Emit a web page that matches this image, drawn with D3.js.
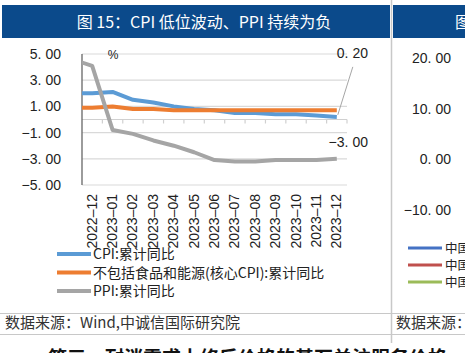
<!DOCTYPE html>
<html>
<head>
<meta charset="utf-8">
<script src="https://cdn.jsdelivr.net/npm/d3@7"></script>
<style>
  body { margin: 0; background: #fff; }
  svg { display: block; }
</style>
</head>
<body>
<svg width="465" height="353"></svg>
<script>
// months (2022-11 is outside the plot, only its line segment peeks in)
const months = ["2022-11", "2022-12", "2023-01", "2023-02", "2023-03", "2023-04", "2023-05",
  "2023-06", "2023-07", "2023-08", "2023-09", "2023-10", "2023-11", "2023-12"];
const shownMonths = months.slice(1);

const cpi  = [2.0, 2.0, 2.1, 1.5, 1.3, 1.0, 0.8, 0.7, 0.5, 0.5, 0.4, 0.4, 0.3, 0.2];
const core = [0.9, 0.9, 1.0, 0.8, 0.8, 0.7, 0.7, 0.7, 0.7, 0.7, 0.7, 0.7, 0.7, 0.7];
const ppi  = [4.6, 4.1, -0.8, -1.1, -1.6, -2.0, -2.5, -3.1, -3.2, -3.2, -3.1, -3.1, -3.1, -3.0];

const seriesNames = ["CPI:累计同比", "不包括食品和能源(核心CPI):累计同比", "PPI:累计同比"];
const seriesColors = ["#5b9bd5", "#ed7d31", "#a5a5a5"];
const yTicks = [5, 3, 1, -1, -3, -5];

// right, cropped neighbour chart
const rightTicks = [20, 10, 0, -10];
const rightColors = ["#4472c4", "#c0504d", "#9bbb59"];

const svg = d3.select("svg");
const fmt = d3.format(".2f");

// wide-period number text like the source font
function numText(sel, v) {
  const s = fmt(v).split(".");
  sel.append("tspan").text(s[0]);
  sel.append("tspan").attr("letter-spacing", 4).text(".");
  sel.append("tspan").text(s[1]);
}

// frame lines
svg.append("line").attr("x1", 391.5).attr("x2", 391.5).attr("y1", 0).attr("y2", 343)
  .attr("stroke", "#c8c8c8").attr("stroke-width", 1.5);
[313.5, 334.5].forEach(y => svg.append("line").attr("x1", 0).attr("x2", 465)
  .attr("y1", y).attr("y2", y).attr("stroke", "#c8c8c8"));

// headers
svg.append("rect").attr("x", 2).attr("y", 5).attr("width", 388).attr("height", 33).attr("fill", "#0b4a8b");
svg.append("rect").attr("x", 393).attr("y", 5).attr("width", 72).attr("height", 33).attr("fill", "#0b4a8b");
svg.append("text").attr("x", 204).attr("y", 22).attr("dy", "0.36em")
  .attr("text-anchor", "middle").attr("fill", "#fff")
  .style("font", "16px 'Noto Sans CJK SC'")
  .text("图 15：CPI 低位波动、PPI 持续为负");
svg.append("text").attr("x", 455).attr("y", 22).attr("dy", "0.36em")
  .attr("fill", "#fff").style("font", "16px 'Noto Sans CJK SC'").text("图");

// scales
const plotL = 82, plotR = 347;
const step = (plotR - plotL) / shownMonths.length;
const x = d3.scaleBand().domain(months).range([plotL - step, plotR]);
const cx = m => x(m) + x.bandwidth() / 2;
const y = d3.scaleLinear().domain([-5, 5]).range([185, 54]);

// gridlines
svg.append("g").selectAll("line").data(yTicks).join("line")
  .attr("x1", plotL).attr("x2", plotR)
  .attr("y1", d => y(d)).attr("y2", d => y(d))
  .attr("stroke", "#d9d9d9").attr("stroke-width", 1.2);

// y labels
svg.append("g").selectAll("text").data(yTicks).join("text")
  .attr("x", 61).attr("y", d => y(d)).attr("dy", "0.36em")
  .attr("text-anchor", "end").attr("fill", "#222")
  .style("font", "14px 'Liberation Sans'")
  .each(function(d) { numText(d3.select(this), d); });

// zero axis with ticks at band edges
svg.append("line").attr("x1", plotL).attr("x2", plotR)
  .attr("y1", y(0)).attr("y2", y(0)).attr("stroke", "#d0d0d0").attr("stroke-width", 1.2);
svg.append("g").selectAll("line").data(shownMonths).join("line")
  .attr("x1", d => x(d) + x.bandwidth()).attr("x2", d => x(d) + x.bandwidth())
  .attr("y1", y(0)).attr("y2", y(0) + 4)
  .attr("stroke", "#d0d0d0").attr("stroke-width", 1.2);

// y axis
svg.append("line").attr("x1", plotL).attr("x2", plotL).attr("y1", y(5)).attr("y2", y(-5))
  .attr("stroke", "#666").attr("stroke-width", 1.3);

svg.append("text").attr("x", 113).attr("y", 55).attr("dy", "0.36em")
  .attr("text-anchor", "middle").attr("fill", "#222")
  .style("font", "12px 'Liberation Sans'").text("%");

// x labels
svg.append("g").selectAll("text").data(shownMonths).join("text")
  .attr("transform", d => `translate(${cx(d)},194) rotate(-90)`)
  .attr("dy", "0.32em").attr("text-anchor", "end").attr("fill", "#222")
  .style("font", "14px 'Liberation Sans'")
  .text(d => d.replace("-", "–"));

// lines
svg.append("clipPath").attr("id", "plot").append("rect")
  .attr("x", plotL).attr("y", 0).attr("width", plotR - plotL).attr("height", 353);

const line = d3.line().x((d, i) => cx(months[i])).y(d => y(d));
svg.append("g").attr("clip-path", "url(#plot)")
  .selectAll("path").data([cpi, core, ppi]).join("path")
  .attr("d", line)
  .attr("fill", "none")
  .attr("stroke", (d, i) => seriesColors[i])
  .attr("stroke-width", 4)
  .attr("stroke-linejoin", "round");

// end labels
const last = months[months.length - 1];
const cpiEnd = cpi[cpi.length - 1];
const ppiEnd = ppi[ppi.length - 1];
svg.append("line")
  .attr("x1", cx(last) + 16).attr("y1", y(cpiEnd) - 50)
  .attr("x2", cx(last) + 1).attr("y2", y(cpiEnd) - 2)
  .attr("stroke", "#a6a6a6").attr("stroke-width", 1);
svg.append("text").attr("x", 368).attr("y", y(cpiEnd) - 64).attr("dy", "0.36em")
  .attr("text-anchor", "end").attr("fill", "#222")
  .style("font", "14px 'Liberation Sans'")
  .call(s => numText(s, cpiEnd));
svg.append("text").attr("x", 368).attr("y", y(ppiEnd) - 17).attr("dy", "0.36em")
  .attr("text-anchor", "end").attr("fill", "#222")
  .style("font", "14px 'Liberation Sans'")
  .call(s => numText(s, ppiEnd));

// legend
const leg = svg.append("g").selectAll("g").data(seriesNames).join("g")
  .attr("transform", (d, i) => `translate(57,${254 + i * 18.5})`);
leg.append("line").attr("x1", 0).attr("x2", 34)
  .attr("stroke", (d, i) => seriesColors[i]).attr("stroke-width", 4);
leg.append("text").attr("x", 36).attr("dy", "0.36em").attr("fill", "#222")
  .style("font", "14px 'Noto Sans CJK SC'").text(d => d);

// source
svg.append("text").attr("x", 5).attr("y", 323).attr("dy", "0.36em").attr("fill", "#333")
  .style("font", "15px 'Noto Sans CJK SC'").text("数据来源：Wind,中诚信国际研究院");
svg.append("text").attr("x", 396).attr("y", 323).attr("dy", "0.36em").attr("fill", "#333")
  .style("font", "15px 'Noto Sans CJK SC'").text("数据来源：");

// right neighbour chart (cropped)
const yr = d3.scaleLinear().domain([-10, 20]).range([210, 58]);
svg.append("g").selectAll("text").data(rightTicks).join("text")
  .attr("x", 451).attr("y", d => yr(d)).attr("dy", "0.36em")
  .attr("text-anchor", "end").attr("fill", "#222")
  .style("font", "14px 'Liberation Sans'")
  .each(function(d) { numText(d3.select(this), d); });
const rleg = svg.append("g").selectAll("g").data(rightColors).join("g")
  .attr("transform", (d, i) => `translate(408,${248 + i * 17})`);
rleg.append("line").attr("x1", 0).attr("x2", 34)
  .attr("stroke", d => d).attr("stroke-width", 3);
rleg.append("text").attr("x", 37).attr("dy", "0.36em").attr("fill", "#222")
  .style("font", "12.5px 'Noto Sans CJK SC'").text("中国");

// body text below, cut by the frame
svg.append("text").attr("x", 48).attr("y", 365).attr("fill", "#111")
  .style("font", "bold 19px 'Noto Sans CJK SC'")
  .text("第三，耐消需求上修后价格的基石关注服务价格");
</script>
</body>
</html>
